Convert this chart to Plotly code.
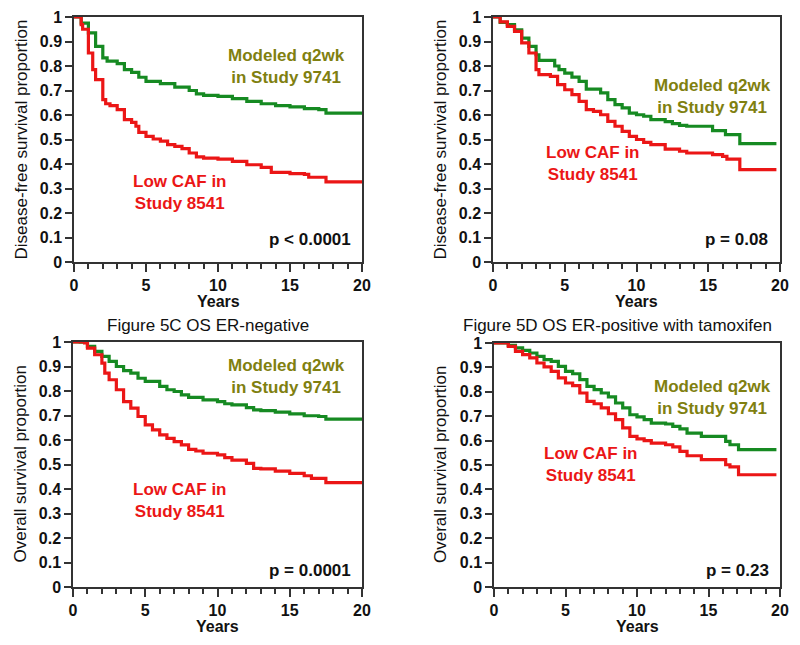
import plotly.graph_objects as go

# ---------------- data ----------------
# Panel A: DFS ER-negative
a_green_t = [0, 0.5, 1, 1.5, 2, 2.3, 3, 3.5, 4, 4.5, 5, 6, 7, 8, 8.5, 9, 10, 11, 12, 13, 14, 15, 16, 17, 17.5, 20]
a_green_s = [1.0, 0.975, 0.935, 0.88, 0.833, 0.82, 0.81, 0.785, 0.774, 0.754, 0.737, 0.728, 0.714, 0.70, 0.686, 0.68, 0.676, 0.667, 0.656, 0.646, 0.638, 0.633, 0.626, 0.622, 0.608, 0.608]
a_red_t = [0, 0.5, 0.6, 1, 1.3, 1.5, 2, 2.2, 2.5, 3, 3.5, 4, 4.3, 4.5, 5, 5.5, 6, 6.5, 7, 7.5, 8, 8.5, 9, 10, 11, 12, 13, 13.7, 15, 16, 16.3, 17.5, 20]
a_red_s = [1.0, 0.969, 0.95, 0.853, 0.785, 0.744, 0.663, 0.646, 0.638, 0.622, 0.581, 0.570, 0.554, 0.529, 0.513, 0.502, 0.493, 0.479, 0.472, 0.463, 0.445, 0.429, 0.424, 0.42, 0.411, 0.397, 0.386, 0.366, 0.361, 0.358, 0.346, 0.327, 0.327]

# Panel B: DFS ER-positive with tamoxifen
b_green_t = [0, 0.5, 1, 1.5, 2, 2.5, 3, 3.2, 4.3, 4.6, 5, 5.5, 6, 6.5, 7.5, 8, 8.5, 9, 9.5, 10, 10.5, 11, 12, 12.5, 13, 13.5, 15.3, 16.2, 17.2, 19.75]
b_green_s = [1.0, 0.978, 0.969, 0.948, 0.914, 0.88, 0.846, 0.823, 0.80, 0.785, 0.771, 0.755, 0.737, 0.706, 0.69, 0.663, 0.642, 0.629, 0.608, 0.601, 0.595, 0.581, 0.573, 0.565, 0.558, 0.554, 0.536, 0.52, 0.483, 0.483]
b_red_t = [0, 0.5, 1, 1.5, 2, 2.5, 3, 3.2, 4, 4.5, 5, 5.5, 6, 6.5, 7, 7.5, 8, 8.5, 9, 9.5, 10, 10.5, 11, 12, 13, 13.5, 15.3, 16, 16.3, 17.2, 19.75]
b_red_s = [1.0, 0.98, 0.962, 0.941, 0.894, 0.853, 0.785, 0.765, 0.758, 0.724, 0.703, 0.683, 0.656, 0.622, 0.615, 0.601, 0.574, 0.554, 0.533, 0.513, 0.5, 0.488, 0.479, 0.461, 0.452, 0.445, 0.438, 0.431, 0.42, 0.377, 0.377]

# Panel C: OS ER-negative
c_green_t = [0, 0.5, 1, 1.5, 2, 2.5, 3, 3.5, 4, 4.5, 5, 6, 6.5, 7, 7.5, 8, 9, 10, 10.5, 11, 12, 12.5, 13, 14, 15, 16, 17, 17.5, 20]
c_green_s = [1.0, 0.999, 0.982, 0.962, 0.941, 0.921, 0.90, 0.883, 0.873, 0.852, 0.839, 0.819, 0.805, 0.798, 0.784, 0.774, 0.764, 0.757, 0.748, 0.743, 0.732, 0.723, 0.72, 0.714, 0.707, 0.699, 0.696, 0.685, 0.682]
c_red_t = [0, 0.8, 1, 1.5, 2, 2.2, 2.5, 3, 3.5, 4, 4.5, 5, 5.5, 6, 6.5, 7, 7.5, 8, 8.5, 9, 10, 10.5, 11, 12, 12.5, 13, 14, 15, 16, 16.5, 17.5, 20]
c_red_s = [1.0, 0.996, 0.975, 0.948, 0.914, 0.873, 0.846, 0.805, 0.757, 0.73, 0.696, 0.662, 0.641, 0.621, 0.607, 0.593, 0.58, 0.562, 0.555, 0.546, 0.539, 0.528, 0.518, 0.505, 0.484, 0.482, 0.473, 0.464, 0.454, 0.443, 0.426, 0.426]

# Panel D: OS ER-positive with tamoxifen
d_green_t = [0, 1, 1.5, 2, 2.5, 3, 3.5, 4, 4.5, 5, 5.5, 6, 6.5, 7, 7.5, 8, 8.5, 9, 9.5, 10, 10.5, 11, 12, 12.5, 13, 13.5, 14.5, 16.2, 16.5, 17.1, 19.75]
d_green_s = [1.0, 0.99, 0.98, 0.97, 0.959, 0.945, 0.932, 0.925, 0.904, 0.884, 0.874, 0.85, 0.822, 0.809, 0.795, 0.779, 0.754, 0.734, 0.706, 0.697, 0.686, 0.672, 0.668, 0.658, 0.648, 0.631, 0.617, 0.597, 0.583, 0.563, 0.563]
d_red_t = [0, 1, 1.5, 2, 2.5, 3, 3.5, 4, 4.5, 5, 5.5, 6, 6.5, 7, 7.5, 8, 8.5, 9, 9.5, 10, 10.5, 11, 12, 12.5, 13, 13.5, 14.5, 16.2, 16.5, 17.1, 19.75]
d_red_s = [1.0, 0.986, 0.966, 0.952, 0.939, 0.918, 0.902, 0.884, 0.857, 0.836, 0.825, 0.795, 0.761, 0.751, 0.734, 0.71, 0.686, 0.652, 0.617, 0.607, 0.60, 0.59, 0.583, 0.574, 0.556, 0.538, 0.522, 0.501, 0.492, 0.46, 0.46]

y_tickvals = [0, 0.1, 0.2, 0.3, 0.4, 0.5, 0.6, 0.7, 0.8, 0.9, 1]
y_ticktext = ["0", "0.1", "0.2", "0.3", "0.4", "0.5", "0.6", "0.7", "0.8", "0.9", "1"]
x_tickvals = [0, 5, 10, 15, 20]

panel_titles = ["", "", "Figure 5C OS ER-negative", "Figure 5D OS ER-positive with tamoxifen"]
y_titles = ["Disease-free survival proportion", "Disease-free survival proportion",
            "Overall survival proportion", "Overall survival proportion"]
p_values = ["p < 0.0001", "p = 0.08", "p = 0.0001", "p = 0.23"]
green_label = "Modeled q2wk<br>in Study 9741"
red_label = "Low CAF in<br>Study 8541"

# ---------------- layout geometry (pixels) ----------------
W, H = 800, 645
FONT = "Liberation Sans, Arial, Helvetica, sans-serif"
GREEN = "rgb(22,138,34)"
RED = "rgb(235,22,22)"
OLIVE = "rgb(128,128,16)"
AXC = "#333333"

# plot boxes: (x0, x1, ytop, ybottom) in pixels
boxes = [(74, 362, 17, 262), (493, 780, 17, 262), (73, 362, 342, 587), (494, 780, 343, 587)]
green_pos = [(286, 67), (712, 96), (286, 376), (712, 397)]
red_pos = [(179, 192), (592, 163), (179, 500), (590, 465)]
p_pos = [(353, 239), (770, 239), (353, 570), (771, 570)]
title_pos = [(208, 0), (617, 0), (208, 325), (617, 325)]

curves = [(a_green_t, a_green_s, a_red_t, a_red_s),
          (b_green_t, b_green_s, b_red_t, b_red_s),
          (c_green_t, c_green_s, c_red_t, c_red_s),
          (d_green_t, d_green_s, d_red_t, d_red_s)]

fig = go.Figure()

def px_x(p):
    return p / W

def px_y(p):
    return 1 - p / H

annotations = []
for i, (box, cv) in enumerate(zip(boxes, curves)):
    n = "" if i == 0 else str(i + 1)
    x0, x1, yt, yb = box
    xa = dict(domain=[px_x(x0), px_x(x1)], range=[0, 20], anchor="y" + n, automargin=False,
              tickvals=x_tickvals, ticks="outside", ticklen=8, tickwidth=1.5, tickcolor=AXC,
              minor=dict(dtick=1, tick0=0, ticks="outside", ticklen=5, tickwidth=1.5, tickcolor=AXC, showgrid=False),
              showline=True, mirror=True, linecolor=AXC, linewidth=1.5,
              showgrid=False, zeroline=False,
              tickfont=dict(family=FONT, size=16, color="#111", weight="bold"))
    ya = dict(domain=[px_y(yb), px_y(yt)], range=[0, 1], anchor="x" + n, automargin=False,
              tickvals=y_tickvals, ticktext=y_ticktext, ticks="outside", ticklen=7, tickwidth=1.5, tickcolor=AXC,
              showline=True, mirror=True, linecolor=AXC, linewidth=1.5,
              showgrid=False, zeroline=False,
              tickfont=dict(family=FONT, size=16, color="#111", weight="bold"))
    fig.update_layout(**{"xaxis" + n: xa, "yaxis" + n: ya})

    gt, gs, rt, rs = cv
    fig.add_trace(go.Scatter(x=gt, y=gs, mode="lines", line=dict(color=GREEN, width=3.2, shape="hv"),
                             xaxis="x" + n, yaxis="y" + n, cliponaxis=False, showlegend=False))
    fig.add_trace(go.Scatter(x=rt, y=rs, mode="lines", line=dict(color=RED, width=3.2, shape="hv"),
                             xaxis="x" + n, yaxis="y" + n, cliponaxis=False, showlegend=False))

    # axis titles
    annotations.append(dict(text=y_titles[i], x=px_x(x0 - 53), y=px_y((yt + yb) / 2), xref="paper", yref="paper",
                            textangle=-90, showarrow=False, xanchor="center", yanchor="middle",
                            font=dict(family=FONT, size=17, color="#111")))
    annotations.append(dict(text="<b>Years</b>", x=px_x((x0 + x1) / 2), y=px_y(yb + 39), xref="paper", yref="paper",
                            showarrow=False, xanchor="center", yanchor="middle",
                            font=dict(family=FONT, size=16, color="#111")))
    # panel title
    if panel_titles[i]:
        tx, ty = title_pos[i]
        annotations.append(dict(text=panel_titles[i], x=px_x(tx), y=px_y(ty), xref="paper", yref="paper",
                                showarrow=False, xanchor="center", yanchor="middle",
                                font=dict(family=FONT, size=17, color="#111")))
    gx, gy = green_pos[i]
    annotations.append(dict(text="<b>" + green_label + "</b>", x=px_x(gx), y=px_y(gy), xref="paper", yref="paper",
                            showarrow=False, xanchor="center", yanchor="middle", align="center",
                            font=dict(family=FONT, size=17, color=OLIVE)))
    rx, ry = red_pos[i]
    annotations.append(dict(text="<b>" + red_label + "</b>", x=px_x(rx), y=px_y(ry), xref="paper", yref="paper",
                            showarrow=False, xanchor="center", yanchor="middle", align="center",
                            font=dict(family=FONT, size=17, color=RED)))
    ppx, ppy = p_pos[i]
    annotations.append(dict(text="<b>" + p_values[i] + "</b>", x=px_x(ppx), y=px_y(ppy), xref="paper", yref="paper",
                            showarrow=False, xanchor="right", yanchor="middle",
                            font=dict(family=FONT, size=17, color="#111")))

fig.update_layout(width=W, height=H, margin=dict(l=0, r=0, t=0, b=0, pad=0, autoexpand=False),
                  paper_bgcolor="white", plot_bgcolor="white", annotations=annotations,
                  font=dict(family=FONT))

fig.write_html("out.html", config={"displayModeBar": False},
               post_script="document.body.style.margin='0';document.body.style.padding='0';")
